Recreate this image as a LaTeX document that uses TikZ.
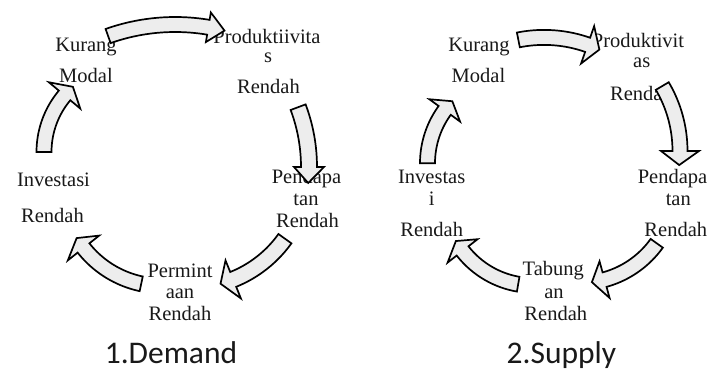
\documentclass[tikz,border=0pt]{standalone}
\usepackage{fontspec}
\setmainfont{Liberation Serif}
\newfontfamily\capfont{Carlito}
\newcommand{\blockarc}[8]{%
  \filldraw[blk] plot[domain=#4:#5,samples=30] ({#1+(#3+#7)*cos(\x)},{#2+(#3+#7)*sin(\x)})
   -- ({#1+(#3+#8)*cos(#5)},{#2+(#3+#8)*sin(#5)})
   -- ({#1+#3*cos(#6)},{#2+#3*sin(#6)})
   -- ({#1+(#3-#8)*cos(#5)},{#2+(#3-#8)*sin(#5)})
   -- plot[domain=#5:#4,samples=30] ({#1+(#3-#7)*cos(\x)},{#2+(#3-#7)*sin(\x)})
   -- cycle;}
\tikzset{
  lbl/.style={font=\fontsize{20.5}{24}\selectfont, inner sep=0pt, anchor=base, text=black!90},
  captxt/.style={font=\capfont\fontsize{31.5}{36}\selectfont, inner sep=0pt, anchor=base, text=black!90},
  blk/.style={draw=black, fill=black!7, line width=1.7pt, line join=miter}
}
\begin{document}
\begin{tikzpicture}[x=1pt,y=-1pt]
\useasboundingbox (0,0) rectangle (713,372);
% ---------- left: Demand ----------
\node[lbl] (lk1) at (86,52) {Kurang};
\node[lbl] (lk2) at (86,82) {Modal};
\node[lbl] (lp1) at (267,43) {Produktiivita};
\node[lbl] (lp2) at (268,62) {s};
\node[lbl] (lp3) at (268.5,93) {Rendah};
\node[lbl] (ld1) at (306.5,183) {Pendapa};
\node[lbl] (ld2) at (306,205) {tan};
\node[lbl] (ld3) at (307.5,227) {Rendah};
\node[lbl] (lm1) at (180,277) {Permint};
\node[lbl] (lm2) at (180,298.5) {aan};
\node[lbl] (lm3) at (180,320) {Rendah};
\node[lbl] (li1) at (53.5,186) {Investasi};
\node[lbl] (li2) at (52.5,222) {Rendah};
\node[captxt] (lcap) at (171,363.5) {1.Demand};
\blockarc{175.2}{225.5}{201}{250.5}{279.5}{284.2}{7.5}{15}
\blockarc{139}{167}{170}{339.4}{360}{365.4}{8}{15}
\blockarc{189}{170}{118}{35.6}{68}{74.5}{8}{20.5}
\blockarc{162}{186}{100}{102}{141.7}{148.6}{7.5}{20}
\blockarc{132}{152}{88}{180}{220}{227.8}{7.5}{20.5}
% ---------- right: Supply ----------
\node[lbl] (rk1) at (479,52) {Kurang};
\node[lbl] (rk2) at (478.5,82) {Modal};
\node[lbl] (rp1) at (638,47.5) {Produktivit};
\node[lbl] (rp2) at (641.7,67.5) {as};
\node[lbl] (rp3) at (641.5,100) {Rendah};
\node[lbl] (rd1) at (672.5,183.3) {Pendapa};
\node[lbl] (rd2) at (678.3,205) {tan};
\node[lbl] (rd3) at (675.8,236.7) {Rendah};
\node[lbl] (rt1) at (553.3,275) {Tabung};
\node[lbl] (rt2) at (554,298) {an};
\node[lbl] (rt3) at (555.8,320) {Rendah};
\node[lbl] (ri1) at (431.7,183.3) {Investas};
\node[lbl] (ri2) at (431.7,205) {i};
\node[lbl] (ri3) at (431.7,236.7) {Rendah};
\node[captxt] (rcap) at (561.5,363.5) {2.Supply};
\blockarc{544}{169.4}{132}{258.8}{289.3}{294.8}{7.5}{19.8}
\blockarc{552}{151}{128}{329.5}{360}{366.3}{7.5}{19}
\blockarc{579.5}{188}{95}{35.6}{74.7}{82.5}{7.5}{19}
\blockarc{533.5}{195.5}{90}{99.8}{142}{149.6}{7.5}{19}
\blockarc{517.5}{163.3}{90}{180}{216}{223.6}{7.5}{19}
\end{tikzpicture}
\end{document}
